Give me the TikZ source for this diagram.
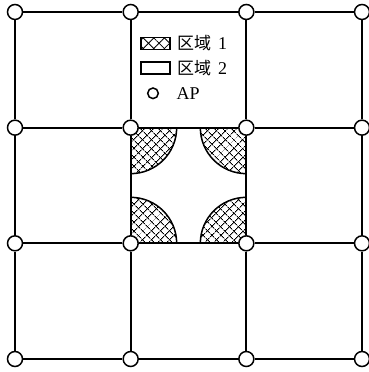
\documentclass[tikz,border=0pt]{standalone}
\usepackage{fontspec}
\setmainfont{Liberation Serif}
\newfontfamily\cjk{Noto Sans CJK SC}
\usetikzlibrary{patterns.meta}
\begin{document}
\begin{tikzpicture}[x=1pt,y=1pt,
  gridline/.style={line width=2pt},
  ap/.style={circle,draw,line width=1.5pt,fill=white,minimum size=15pt,inner sep=0pt},
  hatchA/.style={pattern={Lines[angle=45,distance=6.5pt,line width=0.8pt]}},
  hatchB/.style={pattern={Lines[angle=-45,distance=6.5pt,line width=0.8pt]}},
  keyA/.style={pattern={Lines[angle=45,distance=7.5pt,line width=0.8pt]}},
  keyB/.style={pattern={Lines[angle=-45,distance=7.5pt,line width=0.8pt]}},
  keybox/.style={draw,line width=1.5pt,minimum width=29pt,minimum height=12pt,inner sep=0pt},
  lab/.style={anchor=west,inner sep=0pt,font=\fontsize{18}{18}\selectfont}]
\useasboundingbox (0,0) rectangle (368,372);
% central cell corners
\coordinate (TL) at (130.67,244.33);
\coordinate (TR) at (246.33,244.33);
\coordinate (BL) at (130.67,128.67);
\coordinate (BR) at (246.33,128.67);
\foreach \h in {hatchA,hatchB}{
  \fill[\h] (TL) -- ++(46,0) arc[start angle=0,end angle=-90,radius=46] -- cycle;
  \fill[\h] (TR) -- ++(-46,0) arc[start angle=180,end angle=270,radius=46] -- cycle;
  \fill[\h] (BL) -- ++(46,0) arc[start angle=0,end angle=90,radius=46] -- cycle;
  \fill[\h] (BR) -- ++(-46,0) arc[start angle=180,end angle=90,radius=46] -- cycle;
}
\draw[line width=1.5pt] (TL) ++(46,0) arc[start angle=0,end angle=-90,radius=46];
\draw[line width=1.5pt] (TR) ++(-46,0) arc[start angle=180,end angle=270,radius=46];
\draw[line width=1.5pt] (BL) ++(46,0) arc[start angle=0,end angle=90,radius=46];
\draw[line width=1.5pt] (BR) ++(-46,0) arc[start angle=180,end angle=90,radius=46];
% AP nodes
\foreach \i in {0,...,3}
  \foreach \j in {0,...,3}
    \node[ap] (p\i\j) at ({15+115.67*\i},{13+115.67*\j}) {};
% grid lines
\foreach \j in {0,...,3}
  \draw[gridline] (p0\j) -- (p1\j) -- (p2\j) -- (p3\j);
\foreach \i in {0,...,3}
  \draw[gridline] (p\i0) -- (p\i1) -- (p\i2) -- (p\i3);
% legend
\fill[keyA] (141,322.7) rectangle (170,334.7);
\fill[keyB] (141,322.7) rectangle (170,334.7);
\node[keybox] (k1) at (155.5,328.7) {};
\node[keybox] (k2) at (155.5,304.2) {};
\node[circle,draw,line width=1.5pt,minimum size=10.6pt,inner sep=0pt] (k3) at (153,278.7) {};
\node[lab] (t1) at (177,329) {{\cjk\fontsize{17}{17}\selectfont 区域}\hspace{7pt}1};
\node[lab] (t2) at (177,304) {{\cjk\fontsize{17}{17}\selectfont 区域}\hspace{7pt}2};
\node[lab] (t3) at (176.5,278.5) {AP};
\end{tikzpicture}
\end{document}
